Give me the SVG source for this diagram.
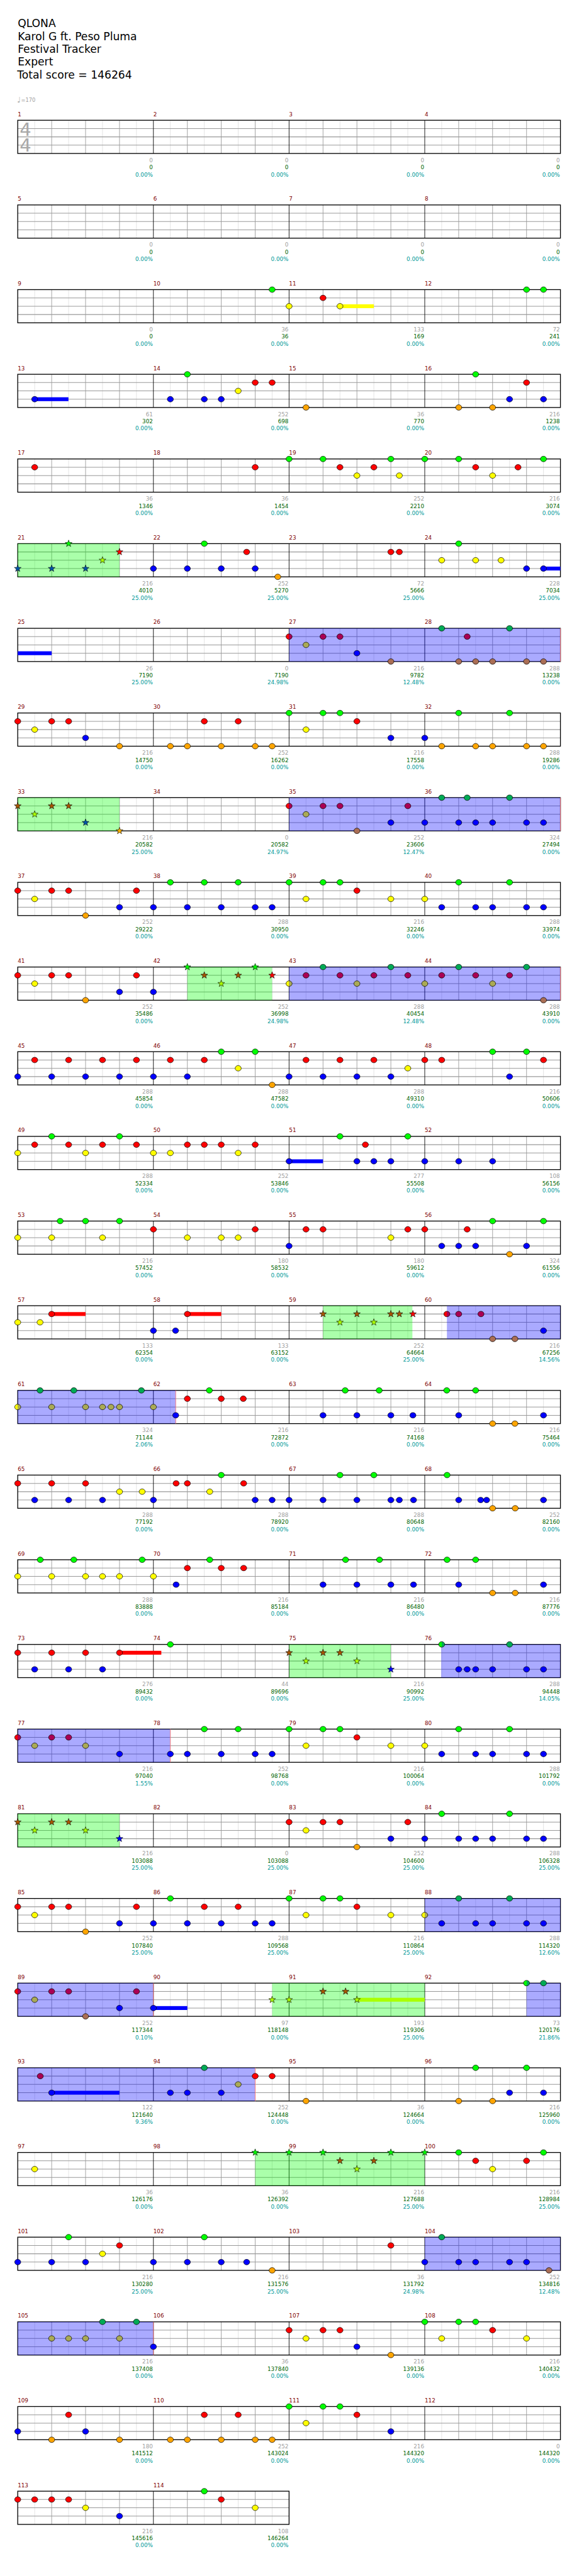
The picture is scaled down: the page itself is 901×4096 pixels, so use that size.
<svg xmlns="http://www.w3.org/2000/svg" width="901" height="4096" viewBox="0 0 901 4096">
<style>
text{font-family:"DejaVu Sans","Liberation Sans",sans-serif}
.ti{font-size:19.5px;fill:#000}
.mn text{font-size:10px;fill:#800000}
.st text{font-size:10px;text-anchor:end}
.a{fill:#a0a0a0}
.b{fill:#006400}
.c{fill:#009999}
.ts{font-size:33px;fill:#a8a8a8}
.lt{stroke:#e0e0e0;stroke-width:1}
.bt{stroke:#999;stroke-width:1}
.ln{stroke:#999;stroke-width:1.2}
.ms{stroke:#000;stroke-width:1}
.bd{fill:none;stroke:#000;stroke-width:1.5}
.og{fill:#0f0;fill-opacity:.333}
.ob{fill:#00f;fill-opacity:.333}
.oe{stroke:#f77;stroke-width:1}
.n{stroke:#000;stroke-width:.8}
.s{stroke:#000;stroke-width:.7}
</style>
<defs>
<linearGradient id="gR"><stop offset=".5" stop-color="#f00"/><stop offset=".5" stop-color="#a05"/></linearGradient>
<linearGradient id="gY"><stop offset=".5" stop-color="#ff0"/><stop offset=".5" stop-color="#aa5"/></linearGradient>
<linearGradient id="gG"><stop offset=".5" stop-color="#0f0"/><stop offset=".5" stop-color="#0a5"/></linearGradient>
<ellipse id="nG" class="n" rx="5.5" ry="5" fill="#0f0"/>
<ellipse id="nR" class="n" rx="5.5" ry="5" fill="#f00"/>
<ellipse id="nY" class="n" rx="5.5" ry="5" fill="#ff0"/>
<ellipse id="nB" class="n" rx="5.5" ry="5" fill="#00f"/>
<ellipse id="nO" class="n" rx="5.5" ry="5" fill="#ffa500"/>
<ellipse id="bG" class="n" rx="5.5" ry="5" fill="#0a5"/>
<ellipse id="bR" class="n" rx="5.5" ry="5" fill="#a05"/>
<ellipse id="bY" class="n" rx="5.5" ry="5" fill="#aa5"/>
<ellipse id="bO" class="n" rx="5.5" ry="5" fill="#aa6e55"/>
<ellipse id="hR" class="n" rx="5.5" ry="5" fill="url(#gR)"/>
<ellipse id="hY" class="n" rx="5.5" ry="5" fill="url(#gY)"/>
<ellipse id="hG" class="n" rx="5.5" ry="5" fill="url(#gG)"/>
<polygon id="sG" class="s" fill="#0f0" points="0,-6.5 1.53,-2.1 6.18,-2.01 2.47,0.8 3.82,5.26 0,2.6 -3.82,5.26 -2.47,0.8 -6.18,-2.01 -1.53,-2.1"/>
<polygon id="sR" class="s" fill="#a50" points="0,-6.5 1.53,-2.1 6.18,-2.01 2.47,0.8 3.82,5.26 0,2.6 -3.82,5.26 -2.47,0.8 -6.18,-2.01 -1.53,-2.1"/>
<polygon id="sY" class="s" fill="#af0" points="0,-6.5 1.53,-2.1 6.18,-2.01 2.47,0.8 3.82,5.26 0,2.6 -3.82,5.26 -2.47,0.8 -6.18,-2.01 -1.53,-2.1"/>
<polygon id="sB" class="s" fill="#05a" points="0,-6.5 1.53,-2.1 6.18,-2.01 2.47,0.8 3.82,5.26 0,2.6 -3.82,5.26 -2.47,0.8 -6.18,-2.01 -1.53,-2.1"/>
<polygon id="tR" class="s" fill="#f00" points="0,-6.5 1.53,-2.1 6.18,-2.01 2.47,0.8 3.82,5.26 0,2.6 -3.82,5.26 -2.47,0.8 -6.18,-2.01 -1.53,-2.1"/>
<polygon id="tB" class="s" fill="#00f" points="0,-6.5 1.53,-2.1 6.18,-2.01 2.47,0.8 3.82,5.26 0,2.6 -3.82,5.26 -2.47,0.8 -6.18,-2.01 -1.53,-2.1"/>
<polygon id="tO" class="s" fill="#ffb000" points="0,-6.5 1.53,-2.1 6.18,-2.01 2.47,0.8 3.82,5.26 0,2.6 -3.82,5.26 -2.47,0.8 -6.18,-2.01 -1.53,-2.1"/>
<g id="m1"><path class="lt" d="M30.6 0V60M91.9 0V60M153.1 0V60M214.4 0V60"/><path class="bt" d="M61.3 0V60M122.5 0V60M183.8 0V60"/></g>
<g id="g4"><use href="#m1"/><use href="#m1" x="245"/><use href="#m1" x="490"/><use href="#m1" x="735"/><path class="ln" d="M0 15H980M0 30H980M0 45H980"/><path class="ms" d="M245 0V60M490 0V60M735 0V60"/><rect class="bd" width="980" height="60"/></g>
<g id="g2"><use href="#m1"/><use href="#m1" x="245"/><path class="ln" d="M0 15H490M0 30H490M0 45H490"/><path class="ms" d="M245 0V60"/><rect class="bd" width="490" height="60"/></g>
</defs>
<rect width="901" height="4096" fill="#fff"/>
<g transform="scale(0.88)">
<g id="header">
<text class="ti" x="32" y="49.3">QLONA</text>
<text class="ti" x="32" y="72.4">Karol G ft. Peso Pluma</text>
<text class="ti" x="32" y="95.5">Festival Tracker</text>
<text class="ti" x="32" y="118.6">Expert</text>
<text class="ti" x="31" y="141.7">Total score = 146264</text>
<text x="31" y="185" style="font-size:14px;fill:#a0a0a0">♩</text>
<text x="38" y="184" style="font-size:9.5px;fill:#a0a0a0">=170</text>
</g>

<g id="row1" transform="translate(32,217.3)">
<use href="#g4"/>
<text class="ts"><tspan x="3.5" y="27.7">4</tspan><tspan x="3.5" y="56.7">4</tspan></text>
<g class="mn"><text x="0" y="-7.5">1</text><text x="245" y="-7.5">2</text><text x="490" y="-7.5">3</text><text x="735" y="-7.5">4</text></g>
<g class="st"><text class="a" x="244" y="75.5">0</text><text class="b" x="244" y="88.5">0</text><text class="c" x="244" y="101.5">0.00%</text><text class="a" x="489" y="75.5">0</text><text class="b" x="489" y="88.5">0</text><text class="c" x="489" y="101.5">0.00%</text><text class="a" x="734" y="75.5">0</text><text class="b" x="734" y="88.5">0</text><text class="c" x="734" y="101.5">0.00%</text><text class="a" x="979" y="75.5">0</text><text class="b" x="979" y="88.5">0</text><text class="c" x="979" y="101.5">0.00%</text></g>
</g>

<g id="row2" transform="translate(32,370.3)">
<use href="#g4"/>
<g class="mn"><text x="0" y="-7.5">5</text><text x="245" y="-7.5">6</text><text x="490" y="-7.5">7</text><text x="735" y="-7.5">8</text></g>
<g class="st"><text class="a" x="244" y="75.5">0</text><text class="b" x="244" y="88.5">0</text><text class="c" x="244" y="101.5">0.00%</text><text class="a" x="489" y="75.5">0</text><text class="b" x="489" y="88.5">0</text><text class="c" x="489" y="101.5">0.00%</text><text class="a" x="734" y="75.5">0</text><text class="b" x="734" y="88.5">0</text><text class="c" x="734" y="101.5">0.00%</text><text class="a" x="979" y="75.5">0</text><text class="b" x="979" y="88.5">0</text><text class="c" x="979" y="101.5">0.00%</text></g>
</g>

<g id="row3" transform="translate(32,523.3)">
<use href="#g4"/>
<rect x="581.9" y="26.5" width="61.2" height="7" fill="#ff0"/>
<use href="#nG" x="459.4"/><use href="#nG" x="918.8"/><use href="#nG" x="949.4"/>
<use href="#nR" x="551.3" y="15"/>
<use href="#nY" x="490" y="30"/><use href="#nY" x="581.9" y="30"/>
<g class="mn"><text x="0" y="-7.5">9</text><text x="245" y="-7.5">10</text><text x="490" y="-7.5">11</text><text x="735" y="-7.5">12</text></g>
<g class="st"><text class="a" x="244" y="75.5">0</text><text class="b" x="244" y="88.5">0</text><text class="c" x="244" y="101.5">0.00%</text><text class="a" x="489" y="75.5">36</text><text class="b" x="489" y="88.5">36</text><text class="c" x="489" y="101.5">0.00%</text><text class="a" x="734" y="75.5">133</text><text class="b" x="734" y="88.5">169</text><text class="c" x="734" y="101.5">0.00%</text><text class="a" x="979" y="75.5">72</text><text class="b" x="979" y="88.5">241</text><text class="c" x="979" y="101.5">0.00%</text></g>
</g>

<g id="row4" transform="translate(32,676.3)">
<use href="#g4"/>
<rect x="30.6" y="41.5" width="61" height="7" fill="#00f"/>
<use href="#nG" x="306.3"/><use href="#nG" x="826.9"/>
<g transform="translate(0,15)"><use href="#nR" x="428.8"/><use href="#nR" x="459.4"/><use href="#nR" x="918.8"/></g>
<g transform="translate(0,30)"><use href="#nY" x="398.1"/></g>
<g transform="translate(0,45)"><use href="#nB" x="30.6"/><use href="#nB" x="275.6"/><use href="#nB" x="336.9"/><use href="#nB" x="367.5"/><use href="#nB" x="888.1"/><use href="#nB" x="949.4"/></g>
<g transform="translate(0,60)"><use href="#nO" x="520.6"/><use href="#nO" x="796.3"/><use href="#nO" x="857.5"/></g>
<g class="mn"><text x="0" y="-7.5">13</text><text x="245" y="-7.5">14</text><text x="490" y="-7.5">15</text><text x="735" y="-7.5">16</text></g>
<g class="st"><text class="a" x="244" y="75.5">61</text><text class="b" x="244" y="88.5">302</text><text class="c" x="244" y="101.5">0.00%</text><text class="a" x="489" y="75.5">252</text><text class="b" x="489" y="88.5">698</text><text class="c" x="489" y="101.5">0.00%</text><text class="a" x="734" y="75.5">36</text><text class="b" x="734" y="88.5">770</text><text class="c" x="734" y="101.5">0.00%</text><text class="a" x="979" y="75.5">216</text><text class="b" x="979" y="88.5">1238</text><text class="c" x="979" y="101.5">0.00%</text></g>
</g>

<g id="row5" transform="translate(32,829.3)">
<use href="#g4"/>
<use href="#nG" x="490"/><use href="#nG" x="551.3"/><use href="#nG" x="673.8"/><use href="#nG" x="735"/><use href="#nG" x="796.3"/><use href="#nG" x="949.4"/>
<g transform="translate(0,15)"><use href="#nR" x="30.6"/><use href="#nR" x="428.8"/><use href="#nR" x="581.9"/><use href="#nR" x="643.1"/><use href="#nR" x="826.9"/><use href="#nR" x="903.4"/></g>
<g transform="translate(0,30)"><use href="#nY" x="612.5"/><use href="#nY" x="689.1"/><use href="#nY" x="857.5"/></g>
<g class="mn"><text x="0" y="-7.5">17</text><text x="245" y="-7.5">18</text><text x="490" y="-7.5">19</text><text x="735" y="-7.5">20</text></g>
<g class="st"><text class="a" x="244" y="75.5">36</text><text class="b" x="244" y="88.5">1346</text><text class="c" x="244" y="101.5">0.00%</text><text class="a" x="489" y="75.5">36</text><text class="b" x="489" y="88.5">1454</text><text class="c" x="489" y="101.5">0.00%</text><text class="a" x="734" y="75.5">252</text><text class="b" x="734" y="88.5">2210</text><text class="c" x="734" y="101.5">0.00%</text><text class="a" x="979" y="75.5">216</text><text class="b" x="979" y="88.5">3074</text><text class="c" x="979" y="101.5">0.00%</text></g>
</g>

<g id="row6" transform="translate(32,982.3)">
<use href="#g4"/>
<rect class="og" x="0" y="0" width="183.8" height="60"/>
<rect x="949.4" y="41.5" width="30.6" height="7" fill="#00f"/>
<use href="#sG" x="91.9"/>
<use href="#tR" x="183.8" y="15"/>
<use href="#sY" x="153.1" y="30"/>
<use href="#sB" x="0" y="45"/><use href="#sB" x="61.3" y="45"/><use href="#sB" x="122.5" y="45"/>
<use href="#nG" x="336.9"/><use href="#nG" x="796.3"/>
<g transform="translate(0,15)"><use href="#nR" x="413.4"/><use href="#nR" x="673.8"/><use href="#nR" x="689.1"/></g>
<g transform="translate(0,30)"><use href="#nY" x="765.6"/><use href="#nY" x="826.9"/><use href="#nY" x="872.8"/></g>
<g transform="translate(0,45)"><use href="#nB" x="245"/><use href="#nB" x="306.3"/><use href="#nB" x="367.5"/><use href="#nB" x="428.8"/><use href="#nB" x="918.8"/><use href="#nB" x="949.4"/></g>
<use href="#nO" x="469.6" y="60"/>
<g class="mn"><text x="0" y="-7.5">21</text><text x="245" y="-7.5">22</text><text x="490" y="-7.5">23</text><text x="735" y="-7.5">24</text></g>
<g class="st"><text class="a" x="244" y="75.5">216</text><text class="b" x="244" y="88.5">4010</text><text class="c" x="244" y="101.5">25.00%</text><text class="a" x="489" y="75.5">252</text><text class="b" x="489" y="88.5">5270</text><text class="c" x="489" y="101.5">25.00%</text><text class="a" x="734" y="75.5">72</text><text class="b" x="734" y="88.5">5666</text><text class="c" x="734" y="101.5">25.00%</text><text class="a" x="979" y="75.5">228</text><text class="b" x="979" y="88.5">7034</text><text class="c" x="979" y="101.5">25.00%</text></g>
</g>

<g id="row7" transform="translate(32,1135.3)">
<use href="#g4"/>
<rect class="ob" x="490" y="0" width="490" height="60"/><path class="oe" d="M980 0V60"/>
<rect x="0" y="41.5" width="61.3" height="7" fill="#00f"/>
<use href="#bG" x="765.6"/><use href="#bG" x="888.1"/>
<g transform="translate(0,15)"><use href="#hR" x="490"/><use href="#bR" x="551.3"/><use href="#bR" x="581.9"/><use href="#bR" x="811.6"/></g>
<use href="#bY" x="520.6" y="30"/>
<use href="#nB" x="612.5" y="45"/>
<g transform="translate(0,60)"><use href="#bO" x="673.8"/><use href="#bO" x="796.3"/><use href="#bO" x="826.9"/><use href="#bO" x="857.5"/><use href="#bO" x="918.8"/><use href="#bO" x="949.4"/></g>
<g class="mn"><text x="0" y="-7.5">25</text><text x="245" y="-7.5">26</text><text x="490" y="-7.5">27</text><text x="735" y="-7.5">28</text></g>
<g class="st"><text class="a" x="244" y="75.5">26</text><text class="b" x="244" y="88.5">7190</text><text class="c" x="244" y="101.5">25.00%</text><text class="a" x="489" y="75.5">0</text><text class="b" x="489" y="88.5">7190</text><text class="c" x="489" y="101.5">24.98%</text><text class="a" x="734" y="75.5">216</text><text class="b" x="734" y="88.5">9782</text><text class="c" x="734" y="101.5">12.48%</text><text class="a" x="979" y="75.5">288</text><text class="b" x="979" y="88.5">13238</text><text class="c" x="979" y="101.5">0.00%</text></g>
</g>

<g id="row8" transform="translate(32,1288.3)">
<use href="#g4"/>
<use href="#nG" x="490"/><use href="#nG" x="551.3"/><use href="#nG" x="581.9"/><use href="#nG" x="796.3"/><use href="#nG" x="888.1"/>
<g transform="translate(0,15)"><use href="#nR" x="0"/><use href="#nR" x="61.3"/><use href="#nR" x="91.9"/><use href="#nR" x="336.9"/><use href="#nR" x="398.1"/><use href="#nR" x="612.5"/></g>
<g transform="translate(0,30)"><use href="#nY" x="30.6"/><use href="#nY" x="520.6"/></g>
<g transform="translate(0,45)"><use href="#nB" x="122.5"/><use href="#nB" x="673.8"/><use href="#nB" x="735"/></g>
<g transform="translate(0,60)"><use href="#nO" x="183.8"/><use href="#nO" x="275.6"/><use href="#nO" x="306.3"/><use href="#nO" x="367.5"/><use href="#nO" x="428.8"/><use href="#nO" x="459.4"/><use href="#nO" x="765.6"/><use href="#nO" x="826.9"/><use href="#nO" x="857.5"/><use href="#nO" x="918.8"/><use href="#nO" x="949.4"/></g>
<g class="mn"><text x="0" y="-7.5">29</text><text x="245" y="-7.5">30</text><text x="490" y="-7.5">31</text><text x="735" y="-7.5">32</text></g>
<g class="st"><text class="a" x="244" y="75.5">216</text><text class="b" x="244" y="88.5">14750</text><text class="c" x="244" y="101.5">0.00%</text><text class="a" x="489" y="75.5">252</text><text class="b" x="489" y="88.5">16262</text><text class="c" x="489" y="101.5">0.00%</text><text class="a" x="734" y="75.5">216</text><text class="b" x="734" y="88.5">17558</text><text class="c" x="734" y="101.5">0.00%</text><text class="a" x="979" y="75.5">288</text><text class="b" x="979" y="88.5">19286</text><text class="c" x="979" y="101.5">0.00%</text></g>
</g>

<g id="row9" transform="translate(32,1441.3)">
<use href="#g4"/>
<rect class="og" x="0" y="0" width="183.8" height="60"/>
<rect class="ob" x="490" y="0" width="490" height="60"/><path class="oe" d="M980 0V60"/>
<g transform="translate(0,15)"><use href="#sR" x="0"/><use href="#sR" x="61.3"/><use href="#sR" x="91.9"/></g>
<use href="#sY" x="30.6" y="30"/>
<use href="#sB" x="122.5" y="45"/>
<use href="#tO" x="183.8" y="60"/>
<use href="#bG" x="765.6"/><use href="#bG" x="811.6"/><use href="#bG" x="888.1"/>
<g transform="translate(0,15)"><use href="#hR" x="490"/><use href="#bR" x="551.3"/><use href="#bR" x="581.9"/><use href="#bR" x="704.4"/></g>
<use href="#bY" x="520.6" y="30"/>
<g transform="translate(0,45)"><use href="#nB" x="673.8"/><use href="#nB" x="735"/><use href="#nB" x="796.3"/><use href="#nB" x="826.9"/><use href="#nB" x="857.5"/><use href="#nB" x="918.8"/><use href="#nB" x="949.4"/></g>
<use href="#bO" x="612.5" y="60"/>
<g class="mn"><text x="0" y="-7.5">33</text><text x="245" y="-7.5">34</text><text x="490" y="-7.5">35</text><text x="735" y="-7.5">36</text></g>
<g class="st"><text class="a" x="244" y="75.5">216</text><text class="b" x="244" y="88.5">20582</text><text class="c" x="244" y="101.5">25.00%</text><text class="a" x="489" y="75.5">0</text><text class="b" x="489" y="88.5">20582</text><text class="c" x="489" y="101.5">24.97%</text><text class="a" x="734" y="75.5">252</text><text class="b" x="734" y="88.5">23606</text><text class="c" x="734" y="101.5">12.47%</text><text class="a" x="979" y="75.5">324</text><text class="b" x="979" y="88.5">27494</text><text class="c" x="979" y="101.5">0.00%</text></g>
</g>

<g id="row10" transform="translate(32,1594.3)">
<use href="#g4"/>
<use href="#nG" x="275.6"/><use href="#nG" x="336.9"/><use href="#nG" x="398.1"/><use href="#nG" x="490"/><use href="#nG" x="551.3"/><use href="#nG" x="581.9"/><use href="#nG" x="796.3"/><use href="#nG" x="888.1"/>
<g transform="translate(0,15)"><use href="#nR" x="0"/><use href="#nR" x="61.3"/><use href="#nR" x="91.9"/><use href="#nR" x="214.4"/><use href="#nR" x="612.5"/></g>
<g transform="translate(0,30)"><use href="#nY" x="30.6"/><use href="#nY" x="520.6"/><use href="#nY" x="673.8"/><use href="#nY" x="735"/></g>
<g transform="translate(0,45)"><use href="#nB" x="183.8"/><use href="#nB" x="245"/><use href="#nB" x="306.3"/><use href="#nB" x="367.5"/><use href="#nB" x="428.8"/><use href="#nB" x="459.4"/><use href="#nB" x="765.6"/><use href="#nB" x="826.9"/><use href="#nB" x="857.5"/><use href="#nB" x="918.8"/><use href="#nB" x="949.4"/></g>
<use href="#nO" x="122.5" y="60"/>
<g class="mn"><text x="0" y="-7.5">37</text><text x="245" y="-7.5">38</text><text x="490" y="-7.5">39</text><text x="735" y="-7.5">40</text></g>
<g class="st"><text class="a" x="244" y="75.5">252</text><text class="b" x="244" y="88.5">29222</text><text class="c" x="244" y="101.5">0.00%</text><text class="a" x="489" y="75.5">288</text><text class="b" x="489" y="88.5">30950</text><text class="c" x="489" y="101.5">0.00%</text><text class="a" x="734" y="75.5">216</text><text class="b" x="734" y="88.5">32246</text><text class="c" x="734" y="101.5">0.00%</text><text class="a" x="979" y="75.5">288</text><text class="b" x="979" y="88.5">33974</text><text class="c" x="979" y="101.5">0.00%</text></g>
</g>

<g id="row11" transform="translate(32,1747.3)">
<use href="#g4"/>
<rect class="og" x="306.3" y="0" width="153.1" height="60"/>
<rect class="ob" x="490" y="0" width="490" height="60"/><path class="oe" d="M980 0V60"/>
<use href="#sG" x="306.3"/><use href="#sG" x="428.8"/>
<g transform="translate(0,15)"><use href="#sR" x="336.9"/><use href="#sR" x="398.1"/><use href="#tR" x="459.4"/></g>
<use href="#sY" x="367.5" y="30"/>
<use href="#bG" x="551.3"/><use href="#bG" x="673.8"/><use href="#bG" x="796.3"/><use href="#bG" x="918.8"/>
<g transform="translate(0,15)"><use href="#nR" x="0"/><use href="#nR" x="61.3"/><use href="#nR" x="91.9"/><use href="#nR" x="214.4"/><use href="#bR" x="520.6"/><use href="#bR" x="581.9"/><use href="#bR" x="643.1"/><use href="#bR" x="704.4"/><use href="#bR" x="765.6"/><use href="#bR" x="826.9"/><use href="#bR" x="888.1"/></g>
<g transform="translate(0,30)"><use href="#nY" x="30.6"/><use href="#hY" x="490"/><use href="#bY" x="612.5"/><use href="#bY" x="735"/><use href="#bY" x="857.5"/></g>
<g transform="translate(0,45)"><use href="#nB" x="183.8"/><use href="#nB" x="245"/></g>
<g transform="translate(0,60)"><use href="#nO" x="122.5"/><use href="#bO" x="949.4"/></g>
<g class="mn"><text x="0" y="-7.5">41</text><text x="245" y="-7.5">42</text><text x="490" y="-7.5">43</text><text x="735" y="-7.5">44</text></g>
<g class="st"><text class="a" x="244" y="75.5">252</text><text class="b" x="244" y="88.5">35486</text><text class="c" x="244" y="101.5">0.00%</text><text class="a" x="489" y="75.5">252</text><text class="b" x="489" y="88.5">36998</text><text class="c" x="489" y="101.5">24.98%</text><text class="a" x="734" y="75.5">288</text><text class="b" x="734" y="88.5">40454</text><text class="c" x="734" y="101.5">12.48%</text><text class="a" x="979" y="75.5">288</text><text class="b" x="979" y="88.5">43910</text><text class="c" x="979" y="101.5">0.00%</text></g>
</g>

<g id="row12" transform="translate(32,1900.3)">
<use href="#g4"/>
<use href="#nG" x="367.5"/><use href="#nG" x="428.8"/><use href="#nG" x="857.5"/><use href="#nG" x="918.8"/>
<g transform="translate(0,15)"><use href="#nR" x="30.6"/><use href="#nR" x="91.9"/><use href="#nR" x="153.1"/><use href="#nR" x="214.4"/><use href="#nR" x="275.6"/><use href="#nR" x="336.9"/><use href="#nR" x="520.6"/><use href="#nR" x="581.9"/><use href="#nR" x="643.1"/><use href="#nR" x="735"/><use href="#nR" x="765.6"/><use href="#nR" x="949.4"/></g>
<g transform="translate(0,30)"><use href="#nY" x="398.1"/><use href="#nY" x="704.4"/></g>
<g transform="translate(0,45)"><use href="#nB" x="0"/><use href="#nB" x="61.3"/><use href="#nB" x="122.5"/><use href="#nB" x="183.8"/><use href="#nB" x="245"/><use href="#nB" x="306.3"/><use href="#nB" x="490"/><use href="#nB" x="551.3"/><use href="#nB" x="612.5"/><use href="#nB" x="673.8"/><use href="#nB" x="888.1"/></g>
<use href="#nO" x="459.4" y="60"/>
<g class="mn"><text x="0" y="-7.5">45</text><text x="245" y="-7.5">46</text><text x="490" y="-7.5">47</text><text x="735" y="-7.5">48</text></g>
<g class="st"><text class="a" x="244" y="75.5">288</text><text class="b" x="244" y="88.5">45854</text><text class="c" x="244" y="101.5">0.00%</text><text class="a" x="489" y="75.5">288</text><text class="b" x="489" y="88.5">47582</text><text class="c" x="489" y="101.5">0.00%</text><text class="a" x="734" y="75.5">288</text><text class="b" x="734" y="88.5">49310</text><text class="c" x="734" y="101.5">0.00%</text><text class="a" x="979" y="75.5">216</text><text class="b" x="979" y="88.5">50606</text><text class="c" x="979" y="101.5">0.00%</text></g>
</g>

<g id="row13" transform="translate(32,2053.3)">
<use href="#g4"/>
<rect x="490" y="41.5" width="61.3" height="7" fill="#00f"/>
<use href="#nG" x="61.3"/><use href="#nG" x="183.8"/><use href="#nG" x="581.9"/><use href="#nG" x="704.4"/>
<g transform="translate(0,15)"><use href="#nR" x="30.6"/><use href="#nR" x="91.9"/><use href="#nR" x="153.1"/><use href="#nR" x="214.4"/><use href="#nR" x="306.3"/><use href="#nR" x="336.9"/><use href="#nR" x="367.5"/><use href="#nR" x="428.8"/><use href="#nR" x="627.8"/></g>
<g transform="translate(0,30)"><use href="#nY" x="0"/><use href="#nY" x="122.5"/><use href="#nY" x="245"/><use href="#nY" x="275.6"/><use href="#nY" x="398.1"/></g>
<g transform="translate(0,45)"><use href="#nB" x="490"/><use href="#nB" x="612.5"/><use href="#nB" x="643.1"/><use href="#nB" x="673.8"/><use href="#nB" x="735"/><use href="#nB" x="796.3"/><use href="#nB" x="857.5"/></g>
<g class="mn"><text x="0" y="-7.5">49</text><text x="245" y="-7.5">50</text><text x="490" y="-7.5">51</text><text x="735" y="-7.5">52</text></g>
<g class="st"><text class="a" x="244" y="75.5">288</text><text class="b" x="244" y="88.5">52334</text><text class="c" x="244" y="101.5">0.00%</text><text class="a" x="489" y="75.5">252</text><text class="b" x="489" y="88.5">53846</text><text class="c" x="489" y="101.5">0.00%</text><text class="a" x="734" y="75.5">277</text><text class="b" x="734" y="88.5">55508</text><text class="c" x="734" y="101.5">0.00%</text><text class="a" x="979" y="75.5">108</text><text class="b" x="979" y="88.5">56156</text><text class="c" x="979" y="101.5">0.00%</text></g>
</g>

<g id="row14" transform="translate(32,2206.3)">
<use href="#g4"/>
<use href="#nG" x="76.6"/><use href="#nG" x="122.5"/><use href="#nG" x="183.8"/><use href="#nG" x="857.5"/><use href="#nG" x="949.4"/>
<g transform="translate(0,15)"><use href="#nR" x="245"/><use href="#nR" x="428.8"/><use href="#nR" x="520.6"/><use href="#nR" x="551.3"/><use href="#nR" x="704.4"/><use href="#nR" x="735"/><use href="#nR" x="811.6"/></g>
<g transform="translate(0,30)"><use href="#nY" x="0"/><use href="#nY" x="61.3"/><use href="#nY" x="153.1"/><use href="#nY" x="306.3"/><use href="#nY" x="367.5"/><use href="#nY" x="398.1"/><use href="#nY" x="673.8"/></g>
<g transform="translate(0,45)"><use href="#nB" x="490"/><use href="#nB" x="765.6"/><use href="#nB" x="796.3"/><use href="#nB" x="826.9"/><use href="#nB" x="918.8"/></g>
<use href="#nO" x="888.1" y="60"/>
<g class="mn"><text x="0" y="-7.5">53</text><text x="245" y="-7.5">54</text><text x="490" y="-7.5">55</text><text x="735" y="-7.5">56</text></g>
<g class="st"><text class="a" x="244" y="75.5">216</text><text class="b" x="244" y="88.5">57452</text><text class="c" x="244" y="101.5">0.00%</text><text class="a" x="489" y="75.5">180</text><text class="b" x="489" y="88.5">58532</text><text class="c" x="489" y="101.5">0.00%</text><text class="a" x="734" y="75.5">180</text><text class="b" x="734" y="88.5">59612</text><text class="c" x="734" y="101.5">0.00%</text><text class="a" x="979" y="75.5">324</text><text class="b" x="979" y="88.5">61556</text><text class="c" x="979" y="101.5">0.00%</text></g>
</g>

<g id="row15" transform="translate(32,2359.3)">
<use href="#g4"/>
<rect class="og" x="551.3" y="0" width="161.4" height="60"/>
<rect class="ob" x="775" y="0" width="205" height="60"/>
<rect x="61.3" y="11.5" width="61.2" height="7" fill="#f00"/><rect x="306.3" y="11.5" width="61.2" height="7" fill="#f00"/>
<g transform="translate(0,15)"><use href="#nR" x="61.3"/><use href="#nR" x="306.3"/><use href="#sR" x="551.3"/><use href="#sR" x="612.5"/><use href="#sR" x="673.8"/><use href="#sR" x="689.1"/><use href="#tR" x="713.6"/><use href="#hR" x="775"/><use href="#bR" x="796.3"/><use href="#bR" x="836.5"/></g>
<g transform="translate(0,30)"><use href="#nY" x="0"/><use href="#nY" x="40.3"/><use href="#sY" x="581.9"/><use href="#sY" x="643.1"/></g>
<g transform="translate(0,45)"><use href="#nB" x="245"/><use href="#nB" x="285"/><use href="#nB" x="949.4"/></g>
<g transform="translate(0,60)"><use href="#bO" x="857.5"/><use href="#bO" x="897.8"/></g>
<g class="mn"><text x="0" y="-7.5">57</text><text x="245" y="-7.5">58</text><text x="490" y="-7.5">59</text><text x="735" y="-7.5">60</text></g>
<g class="st"><text class="a" x="244" y="75.5">133</text><text class="b" x="244" y="88.5">62354</text><text class="c" x="244" y="101.5">0.00%</text><text class="a" x="489" y="75.5">133</text><text class="b" x="489" y="88.5">63152</text><text class="c" x="489" y="101.5">0.00%</text><text class="a" x="734" y="75.5">252</text><text class="b" x="734" y="88.5">64664</text><text class="c" x="734" y="101.5">25.00%</text><text class="a" x="979" y="75.5">216</text><text class="b" x="979" y="88.5">67256</text><text class="c" x="979" y="101.5">14.56%</text></g>
</g>

<g id="row16" transform="translate(32,2512.3)">
<use href="#g4"/>
<rect class="ob" x="0" y="0" width="285.3" height="60"/><path class="oe" d="M285.3 0V60"/>
<use href="#bG" x="40.3"/><use href="#bG" x="101.3"/><use href="#bG" x="223.3"/><use href="#nG" x="346"/><use href="#nG" x="591.3"/><use href="#nG" x="652.7"/><use href="#nG" x="774.7"/><use href="#nG" x="826.9"/>
<g transform="translate(0,15)"><use href="#nR" x="306.3"/><use href="#nR" x="367.5"/><use href="#nR" x="407.3"/></g>
<g transform="translate(0,30)"><use href="#hY" x="0"/><use href="#bY" x="61.3"/><use href="#bY" x="122.5"/><use href="#bY" x="153.1"/><use href="#bY" x="168.4"/><use href="#bY" x="183.8"/><use href="#bY" x="245"/></g>
<g transform="translate(0,45)"><use href="#nB" x="285.3"/><use href="#nB" x="551.3"/><use href="#nB" x="612.5"/><use href="#nB" x="673.8"/><use href="#nB" x="713.6"/><use href="#nB" x="796.3"/><use href="#nB" x="949.4"/></g>
<g transform="translate(0,60)"><use href="#nO" x="857.5"/><use href="#nO" x="897.8"/></g>
<g class="mn"><text x="0" y="-7.5">61</text><text x="245" y="-7.5">62</text><text x="490" y="-7.5">63</text><text x="735" y="-7.5">64</text></g>
<g class="st"><text class="a" x="244" y="75.5">324</text><text class="b" x="244" y="88.5">71144</text><text class="c" x="244" y="101.5">2.06%</text><text class="a" x="489" y="75.5">216</text><text class="b" x="489" y="88.5">72872</text><text class="c" x="489" y="101.5">0.00%</text><text class="a" x="734" y="75.5">216</text><text class="b" x="734" y="88.5">74168</text><text class="c" x="734" y="101.5">0.00%</text><text class="a" x="979" y="75.5">216</text><text class="b" x="979" y="88.5">75464</text><text class="c" x="979" y="101.5">0.00%</text></g>
</g>

<g id="row17" transform="translate(32,2665.3)">
<use href="#g4"/>
<use href="#nG" x="367.5"/><use href="#nG" x="581.9"/><use href="#nG" x="643.1"/><use href="#nG" x="775.3"/>
<g transform="translate(0,15)"><use href="#nR" x="0"/><use href="#nR" x="61.3"/><use href="#nR" x="122.5"/><use href="#nR" x="286"/><use href="#nR" x="306.3"/><use href="#nR" x="408"/></g>
<g transform="translate(0,30)"><use href="#nY" x="183.8"/><use href="#nY" x="224.7"/><use href="#nY" x="346.7"/></g>
<g transform="translate(0,45)"><use href="#nB" x="30.6"/><use href="#nB" x="91.9"/><use href="#nB" x="153.1"/><use href="#nB" x="245"/><use href="#nB" x="428.8"/><use href="#nB" x="459.4"/><use href="#nB" x="490"/><use href="#nB" x="551.3"/><use href="#nB" x="612.5"/><use href="#nB" x="673.8"/><use href="#nB" x="689.1"/><use href="#nB" x="714.7"/><use href="#nB" x="796.3"/><use href="#nB" x="836"/><use href="#nB" x="846.7"/><use href="#nB" x="949.4"/></g>
<g transform="translate(0,60)"><use href="#nO" x="857.5"/><use href="#nO" x="898.3"/></g>
<g class="mn"><text x="0" y="-7.5">65</text><text x="245" y="-7.5">66</text><text x="490" y="-7.5">67</text><text x="735" y="-7.5">68</text></g>
<g class="st"><text class="a" x="244" y="75.5">288</text><text class="b" x="244" y="88.5">77192</text><text class="c" x="244" y="101.5">0.00%</text><text class="a" x="489" y="75.5">288</text><text class="b" x="489" y="88.5">78920</text><text class="c" x="489" y="101.5">0.00%</text><text class="a" x="734" y="75.5">288</text><text class="b" x="734" y="88.5">80648</text><text class="c" x="734" y="101.5">0.00%</text><text class="a" x="979" y="75.5">252</text><text class="b" x="979" y="88.5">82160</text><text class="c" x="979" y="101.5">0.00%</text></g>
</g>

<g id="row18" transform="translate(32,2818.3)">
<use href="#g4"/>
<use href="#nG" x="40.7"/><use href="#nG" x="101.3"/><use href="#nG" x="224.7"/><use href="#nG" x="346.7"/><use href="#nG" x="592"/><use href="#nG" x="653.3"/><use href="#nG" x="775.3"/><use href="#nG" x="826.9"/>
<g transform="translate(0,15)"><use href="#nR" x="306.3"/><use href="#nR" x="367.5"/><use href="#nR" x="408"/></g>
<g transform="translate(0,30)"><use href="#nY" x="0"/><use href="#nY" x="61.3"/><use href="#nY" x="122.5"/><use href="#nY" x="153.1"/><use href="#nY" x="183.8"/><use href="#nY" x="245"/></g>
<g transform="translate(0,45)"><use href="#nB" x="286"/><use href="#nB" x="551.3"/><use href="#nB" x="612.5"/><use href="#nB" x="673.8"/><use href="#nB" x="714.7"/><use href="#nB" x="796.3"/><use href="#nB" x="949.4"/></g>
<g transform="translate(0,60)"><use href="#nO" x="857.5"/><use href="#nO" x="898.3"/></g>
<g class="mn"><text x="0" y="-7.5">69</text><text x="245" y="-7.5">70</text><text x="490" y="-7.5">71</text><text x="735" y="-7.5">72</text></g>
<g class="st"><text class="a" x="244" y="75.5">288</text><text class="b" x="244" y="88.5">83888</text><text class="c" x="244" y="101.5">0.00%</text><text class="a" x="489" y="75.5">216</text><text class="b" x="489" y="88.5">85184</text><text class="c" x="489" y="101.5">0.00%</text><text class="a" x="734" y="75.5">216</text><text class="b" x="734" y="88.5">86480</text><text class="c" x="734" y="101.5">0.00%</text><text class="a" x="979" y="75.5">216</text><text class="b" x="979" y="88.5">87776</text><text class="c" x="979" y="101.5">0.00%</text></g>
</g>

<g id="row19" transform="translate(32,2971.3)">
<use href="#g4"/>
<rect class="og" x="490" y="0" width="183.8" height="60"/>
<rect class="ob" x="764.7" y="0" width="215.3" height="60"/>
<rect x="183.8" y="11.5" width="75.5" height="7" fill="#f00"/>
<use href="#nG" x="275.6"/><use href="#hG" x="765.6"/><use href="#bG" x="888.1"/>
<g transform="translate(0,15)"><use href="#nR" x="0"/><use href="#nR" x="61.3"/><use href="#nR" x="122.5"/><use href="#nR" x="183.8"/><use href="#sR" x="490"/><use href="#sR" x="551.3"/><use href="#sR" x="581.9"/></g>
<g transform="translate(0,30)"><use href="#sY" x="520.6"/><use href="#sY" x="612.5"/></g>
<g transform="translate(0,45)"><use href="#nB" x="30.6"/><use href="#nB" x="91.9"/><use href="#nB" x="153.1"/><use href="#tB" x="673.8"/><use href="#nB" x="796.3"/><use href="#nB" x="811.6"/><use href="#nB" x="826.9"/><use href="#nB" x="857.5"/><use href="#nB" x="918.8"/><use href="#nB" x="949.4"/></g>
<g class="mn"><text x="0" y="-7.5">73</text><text x="245" y="-7.5">74</text><text x="490" y="-7.5">75</text><text x="735" y="-7.5">76</text></g>
<g class="st"><text class="a" x="244" y="75.5">276</text><text class="b" x="244" y="88.5">89432</text><text class="c" x="244" y="101.5">0.00%</text><text class="a" x="489" y="75.5">44</text><text class="b" x="489" y="88.5">89696</text><text class="c" x="489" y="101.5">0.00%</text><text class="a" x="734" y="75.5">216</text><text class="b" x="734" y="88.5">90992</text><text class="c" x="734" y="101.5">25.00%</text><text class="a" x="979" y="75.5">288</text><text class="b" x="979" y="88.5">94448</text><text class="c" x="979" y="101.5">14.05%</text></g>
</g>

<g id="row20" transform="translate(32,3124.3)">
<use href="#g4"/>
<rect class="ob" x="0" y="0" width="275.6" height="60"/><path class="oe" d="M275.6 0V60"/>
<use href="#nG" x="336.9"/><use href="#nG" x="398.1"/><use href="#nG" x="490"/><use href="#nG" x="551.3"/><use href="#nG" x="581.9"/><use href="#nG" x="796.3"/><use href="#nG" x="888.1"/>
<g transform="translate(0,15)"><use href="#hR" x="0"/><use href="#bR" x="61.3"/><use href="#bR" x="91.9"/><use href="#nR" x="612.5"/></g>
<g transform="translate(0,30)"><use href="#bY" x="30.6"/><use href="#bY" x="122.5"/><use href="#nY" x="520.6"/><use href="#nY" x="673.8"/><use href="#nY" x="735"/></g>
<g transform="translate(0,45)"><use href="#nB" x="183.8"/><use href="#nB" x="275.6"/><use href="#nB" x="306.3"/><use href="#nB" x="367.5"/><use href="#nB" x="428.8"/><use href="#nB" x="459.4"/><use href="#nB" x="765.6"/><use href="#nB" x="826.9"/><use href="#nB" x="857.5"/><use href="#nB" x="918.8"/><use href="#nB" x="949.4"/></g>
<g class="mn"><text x="0" y="-7.5">77</text><text x="245" y="-7.5">78</text><text x="490" y="-7.5">79</text><text x="735" y="-7.5">80</text></g>
<g class="st"><text class="a" x="244" y="75.5">216</text><text class="b" x="244" y="88.5">97040</text><text class="c" x="244" y="101.5">1.55%</text><text class="a" x="489" y="75.5">252</text><text class="b" x="489" y="88.5">98768</text><text class="c" x="489" y="101.5">0.00%</text><text class="a" x="734" y="75.5">216</text><text class="b" x="734" y="88.5">100064</text><text class="c" x="734" y="101.5">0.00%</text><text class="a" x="979" y="75.5">288</text><text class="b" x="979" y="88.5">101792</text><text class="c" x="979" y="101.5">0.00%</text></g>
</g>

<g id="row21" transform="translate(32,3277.3)">
<use href="#g4"/>
<rect class="og" x="0" y="0" width="183.8" height="60"/>
<g transform="translate(0,15)"><use href="#sR" x="0"/><use href="#sR" x="61.3"/><use href="#sR" x="91.9"/></g>
<g transform="translate(0,30)"><use href="#sY" x="30.6"/><use href="#sY" x="122.5"/></g>
<use href="#tB" x="183.8" y="45"/>
<use href="#nG" x="765.6"/><use href="#nG" x="888.1"/>
<g transform="translate(0,15)"><use href="#nR" x="490"/><use href="#nR" x="551.3"/><use href="#nR" x="581.9"/><use href="#nR" x="704.4"/></g>
<use href="#nY" x="520.6" y="30"/>
<g transform="translate(0,45)"><use href="#nB" x="673.8"/><use href="#nB" x="735"/><use href="#nB" x="796.3"/><use href="#nB" x="826.9"/><use href="#nB" x="857.5"/><use href="#nB" x="918.8"/><use href="#nB" x="949.4"/></g>
<use href="#nO" x="612.5" y="60"/>
<g class="mn"><text x="0" y="-7.5">81</text><text x="245" y="-7.5">82</text><text x="490" y="-7.5">83</text><text x="735" y="-7.5">84</text></g>
<g class="st"><text class="a" x="244" y="75.5">216</text><text class="b" x="244" y="88.5">103088</text><text class="c" x="244" y="101.5">25.00%</text><text class="a" x="489" y="75.5">0</text><text class="b" x="489" y="88.5">103088</text><text class="c" x="489" y="101.5">25.00%</text><text class="a" x="734" y="75.5">252</text><text class="b" x="734" y="88.5">104600</text><text class="c" x="734" y="101.5">25.00%</text><text class="a" x="979" y="75.5">288</text><text class="b" x="979" y="88.5">106328</text><text class="c" x="979" y="101.5">25.00%</text></g>
</g>

<g id="row22" transform="translate(32,3430.3)">
<use href="#g4"/>
<rect class="ob" x="735" y="0" width="245" height="60"/>
<use href="#nG" x="275.6"/><use href="#nG" x="490"/><use href="#nG" x="551.3"/><use href="#nG" x="581.9"/><use href="#bG" x="796.3"/><use href="#bG" x="888.1"/>
<g transform="translate(0,15)"><use href="#nR" x="0"/><use href="#nR" x="61.3"/><use href="#nR" x="91.9"/><use href="#nR" x="214.4"/><use href="#nR" x="336.9"/><use href="#nR" x="398.1"/><use href="#nR" x="612.5"/></g>
<g transform="translate(0,30)"><use href="#nY" x="30.6"/><use href="#nY" x="520.6"/><use href="#nY" x="673.8"/><use href="#hY" x="735"/></g>
<g transform="translate(0,45)"><use href="#nB" x="183.8"/><use href="#nB" x="245"/><use href="#nB" x="306.3"/><use href="#nB" x="367.5"/><use href="#nB" x="428.8"/><use href="#nB" x="459.4"/><use href="#nB" x="765.6"/><use href="#nB" x="826.9"/><use href="#nB" x="857.5"/><use href="#nB" x="918.8"/><use href="#nB" x="949.4"/></g>
<use href="#nO" x="122.5" y="60"/>
<g class="mn"><text x="0" y="-7.5">85</text><text x="245" y="-7.5">86</text><text x="490" y="-7.5">87</text><text x="735" y="-7.5">88</text></g>
<g class="st"><text class="a" x="244" y="75.5">252</text><text class="b" x="244" y="88.5">107840</text><text class="c" x="244" y="101.5">25.00%</text><text class="a" x="489" y="75.5">288</text><text class="b" x="489" y="88.5">109568</text><text class="c" x="489" y="101.5">25.00%</text><text class="a" x="734" y="75.5">216</text><text class="b" x="734" y="88.5">110864</text><text class="c" x="734" y="101.5">25.00%</text><text class="a" x="979" y="75.5">288</text><text class="b" x="979" y="88.5">114320</text><text class="c" x="979" y="101.5">12.60%</text></g>
</g>

<g id="row23" transform="translate(32,3583.3)">
<use href="#g4"/>
<rect class="ob" x="0" y="0" width="245" height="60"/><path class="oe" d="M245 0V60"/>
<rect class="og" x="459.4" y="0" width="275.6" height="60"/>
<rect class="ob" x="918.8" y="0" width="61.2" height="60"/>
<rect x="245" y="41.5" width="61.3" height="7" fill="#00f"/>
<rect x="612.5" y="26.5" width="122.5" height="7" fill="#af0"/>
<use href="#hG" x="918.8"/><use href="#bG" x="949.4"/>
<g transform="translate(0,15)"><use href="#hR" x="0"/><use href="#bR" x="61.3"/><use href="#bR" x="91.9"/><use href="#bR" x="214.4"/><use href="#sR" x="551.3"/><use href="#sR" x="592"/></g>
<g transform="translate(0,30)"><use href="#bY" x="30.6"/><use href="#sY" x="459.4"/><use href="#sY" x="490"/><use href="#sY" x="612.5"/></g>
<g transform="translate(0,45)"><use href="#nB" x="183.8"/><use href="#nB" x="245"/></g>
<use href="#bO" x="122.5" y="60"/>
<g class="mn"><text x="0" y="-7.5">89</text><text x="245" y="-7.5">90</text><text x="490" y="-7.5">91</text><text x="735" y="-7.5">92</text></g>
<g class="st"><text class="a" x="244" y="75.5">252</text><text class="b" x="244" y="88.5">117344</text><text class="c" x="244" y="101.5">0.10%</text><text class="a" x="489" y="75.5">97</text><text class="b" x="489" y="88.5">118148</text><text class="c" x="489" y="101.5">0.00%</text><text class="a" x="734" y="75.5">193</text><text class="b" x="734" y="88.5">119306</text><text class="c" x="734" y="101.5">25.00%</text><text class="a" x="979" y="75.5">73</text><text class="b" x="979" y="88.5">120176</text><text class="c" x="979" y="101.5">21.86%</text></g>
</g>

<g id="row24" transform="translate(32,3736.3)">
<use href="#g4"/>
<rect class="ob" x="0" y="0" width="428.8" height="60"/><path class="oe" d="M428.8 0V60"/>
<rect x="61.3" y="41.5" width="122.5" height="7" fill="#00f"/>
<use href="#bG" x="336.9"/><use href="#nG" x="826.9"/><use href="#nG" x="918.8"/>
<g transform="translate(0,15)"><use href="#bR" x="40.7"/><use href="#nR" x="428.8"/><use href="#nR" x="459.4"/></g>
<use href="#bY" x="398.1" y="30"/>
<g transform="translate(0,45)"><use href="#nB" x="61.3"/><use href="#nB" x="275.6"/><use href="#nB" x="306.3"/><use href="#nB" x="367.5"/><use href="#nB" x="888.1"/><use href="#nB" x="949.4"/></g>
<g transform="translate(0,60)"><use href="#nO" x="520.6"/><use href="#nO" x="796.3"/><use href="#nO" x="857.5"/></g>
<g class="mn"><text x="0" y="-7.5">93</text><text x="245" y="-7.5">94</text><text x="490" y="-7.5">95</text><text x="735" y="-7.5">96</text></g>
<g class="st"><text class="a" x="244" y="75.5">122</text><text class="b" x="244" y="88.5">121640</text><text class="c" x="244" y="101.5">9.36%</text><text class="a" x="489" y="75.5">252</text><text class="b" x="489" y="88.5">124448</text><text class="c" x="489" y="101.5">0.00%</text><text class="a" x="734" y="75.5">36</text><text class="b" x="734" y="88.5">124664</text><text class="c" x="734" y="101.5">0.00%</text><text class="a" x="979" y="75.5">216</text><text class="b" x="979" y="88.5">125960</text><text class="c" x="979" y="101.5">0.00%</text></g>
</g>

<g id="row25" transform="translate(32,3889.3)">
<use href="#g4"/>
<rect class="og" x="428.8" y="0" width="306.2" height="60"/>
<use href="#nY" x="30.6" y="30"/>
<use href="#sG" x="428.8"/><use href="#sG" x="490"/><use href="#sG" x="551.3"/><use href="#sG" x="673.8"/><use href="#sG" x="735"/>
<g transform="translate(0,15)"><use href="#sR" x="581.9"/><use href="#sR" x="643.1"/></g>
<use href="#sY" x="612.5" y="30"/>
<use href="#nG" x="796.3"/><use href="#nG" x="949.4"/>
<g transform="translate(0,15)"><use href="#nR" x="826.9"/><use href="#nR" x="918.8"/></g>
<use href="#nY" x="857.5" y="30"/>
<g class="mn"><text x="0" y="-7.5">97</text><text x="245" y="-7.5">98</text><text x="490" y="-7.5">99</text><text x="735" y="-7.5">100</text></g>
<g class="st"><text class="a" x="244" y="75.5">36</text><text class="b" x="244" y="88.5">126176</text><text class="c" x="244" y="101.5">0.00%</text><text class="a" x="489" y="75.5">36</text><text class="b" x="489" y="88.5">126392</text><text class="c" x="489" y="101.5">0.00%</text><text class="a" x="734" y="75.5">216</text><text class="b" x="734" y="88.5">127688</text><text class="c" x="734" y="101.5">25.00%</text><text class="a" x="979" y="75.5">216</text><text class="b" x="979" y="88.5">128984</text><text class="c" x="979" y="101.5">25.00%</text></g>
</g>

<g id="row26" transform="translate(32,4042.3)">
<use href="#g4"/>
<rect class="ob" x="735" y="0" width="245" height="60"/>
<use href="#nG" x="91.9"/><use href="#nG" x="336.9"/><use href="#bG" x="765.6"/>
<g transform="translate(0,15)"><use href="#nR" x="183.8"/><use href="#nR" x="673.8"/></g>
<use href="#nY" x="153.1" y="30"/>
<g transform="translate(0,45)"><use href="#nB" x="0"/><use href="#nB" x="61.3"/><use href="#nB" x="122.5"/><use href="#nB" x="245"/><use href="#nB" x="306.3"/><use href="#nB" x="367.5"/><use href="#nB" x="413.4"/><use href="#nB" x="735"/><use href="#nB" x="796.3"/><use href="#nB" x="826.9"/><use href="#nB" x="888.1"/><use href="#nB" x="918.8"/></g>
<g transform="translate(0,60)"><use href="#nO" x="459.4"/><use href="#bO" x="959.3"/></g>
<g class="mn"><text x="0" y="-7.5">101</text><text x="245" y="-7.5">102</text><text x="490" y="-7.5">103</text><text x="735" y="-7.5">104</text></g>
<g class="st"><text class="a" x="244" y="75.5">216</text><text class="b" x="244" y="88.5">130280</text><text class="c" x="244" y="101.5">25.00%</text><text class="a" x="489" y="75.5">216</text><text class="b" x="489" y="88.5">131576</text><text class="c" x="489" y="101.5">25.00%</text><text class="a" x="734" y="75.5">36</text><text class="b" x="734" y="88.5">131792</text><text class="c" x="734" y="101.5">24.98%</text><text class="a" x="979" y="75.5">252</text><text class="b" x="979" y="88.5">134816</text><text class="c" x="979" y="101.5">12.48%</text></g>
</g>

<g id="row27" transform="translate(32,4195.3)">
<use href="#g4"/>
<rect class="ob" x="0" y="0" width="245" height="60"/><path class="oe" d="M245 0V60"/>
<use href="#bG" x="153.1"/><use href="#bG" x="214.4"/><use href="#nG" x="735"/><use href="#nG" x="796.3"/><use href="#nG" x="826.9"/>
<g transform="translate(0,15)"><use href="#nR" x="490"/><use href="#nR" x="551.3"/><use href="#nR" x="581.9"/><use href="#nR" x="857.5"/></g>
<g transform="translate(0,30)"><use href="#bY" x="61.3"/><use href="#bY" x="91.9"/><use href="#bY" x="122.5"/><use href="#bY" x="183.8"/><use href="#nY" x="520.6"/><use href="#nY" x="765.6"/><use href="#nY" x="918.8"/></g>
<g transform="translate(0,45)"><use href="#nB" x="245"/><use href="#nB" x="612.5"/></g>
<use href="#nO" x="673.8" y="60"/>
<g class="mn"><text x="0" y="-7.5">105</text><text x="245" y="-7.5">106</text><text x="490" y="-7.5">107</text><text x="735" y="-7.5">108</text></g>
<g class="st"><text class="a" x="244" y="75.5">216</text><text class="b" x="244" y="88.5">137408</text><text class="c" x="244" y="101.5">0.00%</text><text class="a" x="489" y="75.5">36</text><text class="b" x="489" y="88.5">137840</text><text class="c" x="489" y="101.5">0.00%</text><text class="a" x="734" y="75.5">216</text><text class="b" x="734" y="88.5">139136</text><text class="c" x="734" y="101.5">0.00%</text><text class="a" x="979" y="75.5">216</text><text class="b" x="979" y="88.5">140432</text><text class="c" x="979" y="101.5">0.00%</text></g>
</g>

<g id="row28" transform="translate(32,4348.3)">
<use href="#g4"/>
<use href="#nG" x="490"/><use href="#nG" x="551.3"/><use href="#nG" x="581.9"/>
<g transform="translate(0,15)"><use href="#nR" x="91.9"/><use href="#nR" x="336.9"/><use href="#nR" x="398.1"/><use href="#nR" x="612.5"/></g>
<use href="#nY" x="520.6" y="30"/>
<g transform="translate(0,45)"><use href="#nB" x="0"/><use href="#nB" x="122.5"/><use href="#nB" x="673.8"/></g>
<g transform="translate(0,60)"><use href="#nO" x="61.3"/><use href="#nO" x="183.8"/><use href="#nO" x="275.6"/><use href="#nO" x="306.3"/><use href="#nO" x="367.5"/><use href="#nO" x="428.8"/><use href="#nO" x="459.4"/></g>
<g class="mn"><text x="0" y="-7.5">109</text><text x="245" y="-7.5">110</text><text x="490" y="-7.5">111</text><text x="735" y="-7.5">112</text></g>
<g class="st"><text class="a" x="244" y="75.5">180</text><text class="b" x="244" y="88.5">141512</text><text class="c" x="244" y="101.5">0.00%</text><text class="a" x="489" y="75.5">252</text><text class="b" x="489" y="88.5">143024</text><text class="c" x="489" y="101.5">0.00%</text><text class="a" x="734" y="75.5">216</text><text class="b" x="734" y="88.5">144320</text><text class="c" x="734" y="101.5">0.00%</text><text class="a" x="979" y="75.5">0</text><text class="b" x="979" y="88.5">144320</text><text class="c" x="979" y="101.5">0.00%</text></g>
</g>

<g id="row29" transform="translate(32,4501.3)">
<use href="#g2"/>
<use href="#nG" x="336.9"/>
<g transform="translate(0,15)"><use href="#nR" x="0"/><use href="#nR" x="30.6"/><use href="#nR" x="61.3"/><use href="#nR" x="91.9"/><use href="#nR" x="367.5"/></g>
<g transform="translate(0,30)"><use href="#nY" x="122.5"/><use href="#nY" x="428.8"/></g>
<use href="#nB" x="183.8" y="45"/>
<g class="mn"><text x="0" y="-7.5">113</text><text x="245" y="-7.5">114</text></g>
<g class="st"><text class="a" x="244" y="75.5">216</text><text class="b" x="244" y="88.5">145616</text><text class="c" x="244" y="101.5">0.00%</text><text class="a" x="489" y="75.5">108</text><text class="b" x="489" y="88.5">146264</text><text class="c" x="489" y="101.5">0.00%</text></g>
</g>
</g>
</svg>
